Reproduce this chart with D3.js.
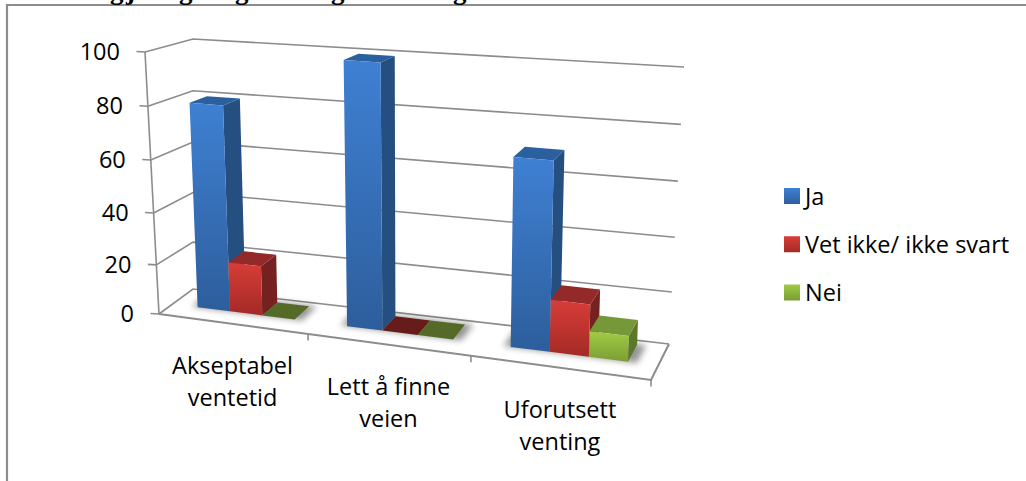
<!DOCTYPE html>
<html>
<head>
<meta charset="utf-8">
<script src="https://cdnjs.cloudflare.com/ajax/libs/d3/7.8.5/d3.min.js"></script>
<style>
html,body{margin:0;padding:0;background:#fff;overflow:hidden}
text{font-family:"Open Sans",Lato,sans-serif;fill:#000}
</style>
</head>
<body>
<svg id="chart" width="1026" height="481"></svg>
<script>
// Survey answers per question, in percent
const categories = [["Akseptabel","ventetid"],["Lett å finne","veien"],["Uforutsett","venting"]];
const seriesNames = ["Ja","Vet ikke/ ikke svart","Nei"];
const ja = [80, 100, 70];
const vetIkke = [20, 0, 20];
const nei = [0, 0, 10];
const yTicks = [0,20,40,60,80,100];

// Face colours per series: front gradient top/bottom, top face, side face, flat (zero-height) face
const frontTop = ["#3f80d3","#d83d38","#a0cb44"];
const frontBottom = ["#2d5e9c","#a32a26","#7b9d35"];
const topFace = ["#2b609f","#94292a","#769839"];
const sideFace = ["#244f80","#75211f","#5a772b"];
const flatFace = ["#244f80","#661c19","#566a27"];

const svg = d3.select("#chart");
const defs = svg.append("defs");
seriesNames.forEach((_, i) => {
  const g = defs.append("linearGradient").attr("id","front"+i).attr("x1",0).attr("y1",0).attr("x2",0).attr("y2",1);
  g.append("stop").attr("offset","0").attr("stop-color",frontTop[i]);
  g.append("stop").attr("offset","1").attr("stop-color",frontBottom[i]);
});
const blur = defs.append("filter").attr("id","soft").attr("x","-30%").attr("y","-80%").attr("width","160%").attr("height","260%");
blur.append("feGaussianBlur").attr("stdDeviation",3);

// Bilinear map of the unit square onto a quadrilateral: corners (0,0),(1,0),(1,1),(0,1)
function quadMap([p0,p1,p2,p3]){
  return (u,v)=>[0,1].map(k=>
    (1-v)*((1-u)*p0[k]+u*p1[k]) + v*((1-u)*p3[k]+u*p2[k]));
}

// Box of the 3D plot: floor plane and ceiling plane (v = 100)
const floorMap = quadMap([[159,314],[651,380],[669,344],[193,289]]);
const ceilMap  = quadMap([[145,52],[661,90],[684,67],[193,39]]);
// Categories grow wider toward the right because of the viewing angle
const xScale = d3.scaleLinear().domain([0,1,2,3]).range([0,0.303,0.634,1]);
const vScale = d3.scalePow().exponent(1.04).domain([0,100]).range([0,1]);
// Depth foreshortens with height, so the ceiling uses its own depth scale
const zCeil = d3.scaleLinear().domain([0,0.4,0.88,1]).range([0,0.34,0.72,1]);

// x in category units, z in 0 (front) .. 1 (back), val in percent
function project(x,z,val){
  const u=xScale(x), t=vScale(val);
  const a=floorMap(u,z), b=ceilMap(u,zCeil(z));
  return [a[0]+(b[0]-a[0])*t, a[1]+(b[1]-a[1])*t];
}
const line = d3.line();
const grid = svg.append("g").attr("fill","none").attr("stroke","#8c8c8c").attr("stroke-width",1.6);

// Page frame of the embedded chart
grid.append("path").attr("d",line([[7,481],[7,5],[1026,5]])).attr("stroke-width",2.2);

// Descenders of the heading that sits above the frame
svg.append("text").attr("y",-1.5).attr("style","font-family:'Liberation Serif';font-weight:700;font-size:27px;fill:#000")
   .attr("x","110 126 179 235 331 453").text("gjgggg");

// Gridlines: side wall and back wall
yTicks.forEach(v=>{
  grid.append("path").attr("d",line([project(0,0,v),project(0,1,v),project(3,1,v)]));
  const p=project(0,0,v);
  grid.append("path").attr("d",line([[p[0]-8.5,p[1]-0.5],p]));
  svg.append("text").attr("x",p[0]-25).attr("y",p[1]+8).attr("text-anchor","end").attr("font-size",23.5).text(v);
});
grid.append("path").attr("d",line([project(0,0,0),project(0,0,100)]));
// Floor outline
grid.append("path").attr("d",line([project(0,0,0),project(3,0,0),project(3,1,0)])).attr("stroke-width",2);
d3.range(1,4).forEach(i=>{
  const p=project(i,0,0);
  grid.append("path").attr("d",line([p,[p[0],p[1]+6.5]]));
});

// Bar layout within one category
const band = d3.scaleBand().domain(d3.range(seriesNames.length)).range([0.17,0.83]);
const zFront = 0.4, zBack = 0.88;
const allSeries = [ja,vetIkke,nei];

// Soft shadows on the floor beneath each group
const shadowG = svg.append("g").attr("filter","url(#soft)").attr("fill","#000").attr("fill-opacity",0.42);
categories.forEach((_,c)=>{
  const x0=c+band(0)-0.04, x1=c+band(2)+band.bandwidth()+0.05;
  shadowG.append("path").attr("d",line([project(x0,zFront,0),project(x1,zFront,0),project(x1,zBack+0.02,0),project(x0,zBack+0.02,0)])+"Z");
});

// Bars, painted left to right so nearer faces cover their neighbours' sides
const bars = svg.append("g");
categories.forEach((_,c)=>{
  allSeries.forEach((vals,s)=>{
    const v=vals[c], x0=c+band(s), x1=x0+band.bandwidth();
    const g=bars.append("g");
    const poly=(pts,fill)=>g.append("path").attr("d",line(pts)+"Z").attr("fill",fill);
    if(v===0){
      poly([project(x0,zFront,0),project(x1,zFront,0),project(x1,zBack,0),project(x0,zBack,0)],flatFace[s]);
      return;
    }
    poly([project(x1,zFront,0),project(x1,zBack,0),project(x1,zBack,v),project(x1,zFront,v)],sideFace[s]);
    poly([project(x0,zFront,v),project(x1,zFront,v),project(x1,zBack,v),project(x0,zBack,v)],topFace[s]);
    poly([project(x0,zFront,0),project(x1,zFront,0),project(x1,zFront,v),project(x0,zFront,v)],`url(#front${s})`);
  });
});

// Two-line category labels below the front edge
categories.forEach((lines,c)=>{
  const p=project(c+0.5,0,0);
  lines.forEach((t,i)=>{
    svg.append("text").attr("x",p[0]-1).attr("y",p[1]+50.5+i*32).attr("text-anchor","middle").attr("font-size",23.5).text(t);
  });
});

// Legend
const legendY = d3.scalePoint().domain(seriesNames).range([196,292.5]);
seriesNames.forEach((name,i)=>{
  const y=legendY(name);
  svg.append("rect").attr("x",784).attr("y",y-8).attr("width",16).attr("height",16).attr("fill",`url(#front${i})`);
  svg.append("text").attr("x",805).attr("y",y+8.5).attr("font-size",23.5).text(name);
});
</script>
</body>
</html>
